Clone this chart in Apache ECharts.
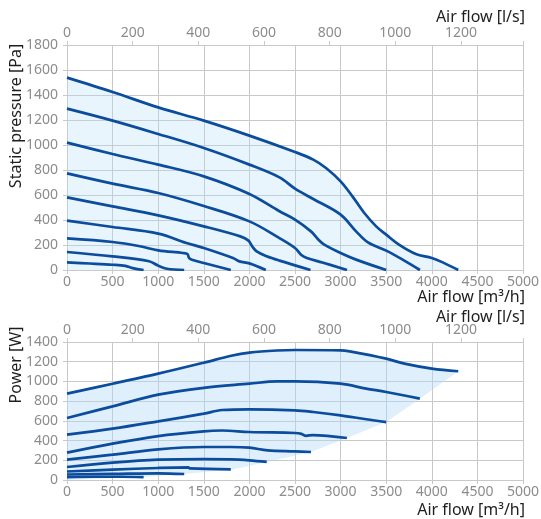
<!DOCTYPE html>
<html>
<head>
<meta charset="utf-8">
<script src="https://cdn.jsdelivr.net/npm/echarts@6.0.0/dist/echarts.min.js"></script>
<style>
html,body{margin:0;padding:0;background:#fff;}
#chart{width:541px;height:519px;}
</style>
</head>
<body>
<div id="chart"></div>
<script>
// ---- Static pressure curves [m3/h, Pa] (lowest speed first)
const pressure1 = [[0,61],[250,52],[500,42],[640,33],[720,15],[840,0]];
const pressure2 = [[0,144],[500,109],[900,70],[1000,35],[1095,10],[1285,0]];
const pressure3 = [[0,253],[500,224],[800,190],[1000,157],[1270,136],[1320,128],[1340,95],[1380,80],[1500,56],[1796,0]];
const pressure4 = [[0,395],[500,344],[1000,291],[1310,216],[1500,176],[1820,96],[1890,69],[2000,53],[2180,0]];
const pressure5 = [[0,581],[500,509],[1000,437],[1500,349],[1900,269],[1990,235],[2030,190],[2080,149],[2190,110],[2330,75],[2670,0]];
const pressure6 = [[0,773],[500,691],[1000,616],[1500,512],[2000,389],[2330,255],[2500,176],[2570,120],[2630,96],[2800,60],[3070,0]];
const pressure7 = [[0,1019],[500,928],[1000,843],[1500,749],[2000,608],[2330,470],[2500,403],[2675,309],[2760,240],[2821,203],[3000,136],[3170,83],[3500,0]];
const pressure8 = [[0,1291],[500,1195],[1000,1088],[1500,976],[2000,843],[2330,741],[2500,651],[2700,568],[3000,443],[3170,309],[3300,221],[3500,155],[3680,83],[3870,0]];
const pressure9 = [[0,1539],[500,1424],[1000,1301],[1500,1195],[2000,1075],[2500,944],[2700,883],[2840,816],[3000,709],[3130,589],[3260,456],[3390,349],[3500,283],[3640,203],[3825,128],[4000,96],[4120,61],[4290,0]];

// ---- Power curves [m3/h, W]
const power1 = [[0,30],[300,33],[600,33],[840,30]];
const power2 = [[0,56],[500,62],[1000,68],[1285,61]];
const power3 = [[0,86],[500,105],[1000,122],[1330,128],[1350,117],[1796,107]];
const power4 = [[0,132],[500,176],[1000,206],[1500,212],[1800,210],[2000,200],[2190,183]];
const power5 = [[0,206],[500,257],[1000,311],[1500,335],[1800,335],[2000,328],[2200,301],[2500,291],[2675,284]];
const power6 = [[0,277],[500,369],[1000,446],[1500,494],[1700,502],[2000,487],[2500,477],[2570,468],[2620,448],[2693,456],[3069,426]];
const power7 = [[0,460],[500,521],[1000,595],[1500,673],[1700,710],[2000,717],[2500,707],[2700,690],[3000,656],[3280,616],[3500,588]];
const power8 = [[0,629],[500,747],[1000,866],[1500,935],[2000,977],[2300,1001],[2500,1001],[3000,977],[3280,927],[3500,893],[3869,825]];
const power9 = [[0,876],[500,977],[1000,1079],[1500,1190],[1800,1260],[2000,1292],[2300,1314],[2500,1319],[3000,1316],[3100,1305],[3500,1231],[3700,1180],[4000,1130],[4290,1103]];
// lower edge of the shaded power region (through curve end points)
const powerFillLower = [[0,0],[840,30],[1285,60],[1800,105],[2190,183],[2675,284],[3070,426],[3500,588],[3870,825],[4290,1103]];

const pressureCurves = [pressure1,pressure2,pressure3,pressure4,pressure5,pressure6,pressure7,pressure8,pressure9];
const powerCurves = [power1,power2,power3,power4,power5,power6,power7,power8,power9];

// ---- Axis ranges / titles
const flowMax = 5000, flowStep = 500;
const lsFactor = 3.6, lsStep = 200, lsLastLabel = 1200;
const pressureMax = 1800, pressureStep = 200;
const powerMax = 1400, powerStep = 200;
const titles = {
  pressure: 'Static pressure [Pa]',
  power: 'Power [W]',
  flowM3h: 'Air flow [m³/h]',
  flowLs: 'Air flow [l/s]'
};

const FONT = '"Noto Sans", "Open Sans", sans-serif';
const GRID_COLOR = '#c9c9c9';
const LABEL_COLOR = '#8c8c8c';
const TITLE_COLOR = '#1e1e1e';
const LINE_COLOR = '#0b4c9c';
const FILL_COLOR = 'rgba(178,220,248,0.42)';

const chart = echarts.init(document.getElementById('chart'), null, {renderer: 'canvas'});

const plain = v => String(Math.round(v));

function flowAxis(gridIndex) {
  return {
    type: 'value', gridIndex, position: 'bottom', min: 0, max: flowMax, interval: flowStep,
    axisLine: {show: true, lineStyle: {color: GRID_COLOR, width: 1}},
    axisTick: {show: true, length: 4, lineStyle: {color: GRID_COLOR}},
    axisLabel: {color: LABEL_COLOR, fontSize: 14, fontFamily: FONT, margin: 5, formatter: plain},
    splitLine: {show: true, lineStyle: {color: GRID_COLOR, width: 1}}
  };
}
function lsAxis(gridIndex) {
  return {
    type: 'value', gridIndex, position: 'top', min: 0, max: flowMax / lsFactor, interval: lsStep,
    axisLine: {show: false},
    axisTick: {show: true, length: 4, lineStyle: {color: GRID_COLOR}},
    axisLabel: {color: LABEL_COLOR, fontSize: 14, fontFamily: FONT, margin: 5,
      formatter: v => (Math.abs(v % lsStep) < 1e-6 && v <= lsLastLabel) ? plain(v) : ''},
    splitLine: {show: false}
  };
}
function valAxis(gridIndex, max, step) {
  return {
    type: 'value', gridIndex, min: 0, max, interval: step,
    axisLine: {show: true, lineStyle: {color: GRID_COLOR, width: 1}},
    axisTick: {show: true, length: 4, lineStyle: {color: GRID_COLOR}},
    axisLabel: {color: LABEL_COLOR, fontSize: 14, fontFamily: FONT, margin: 9, formatter: plain},
    splitLine: {show: true, lineStyle: {color: GRID_COLOR, width: 1}}
  };
}

const series = [];
pressureCurves.forEach((c, i) => {
  series.push({
    type: 'line', xAxisIndex: 0, yAxisIndex: 0, data: c, smooth: 0.35,
    showSymbol: false, silent: true, z: 3,
    lineStyle: {color: LINE_COLOR, width: 2.7},
    areaStyle: i === pressureCurves.length - 1 ? {color: FILL_COLOR, origin: 'start'} : undefined
  });
});
const powerPolygon = power9.concat(powerFillLower.slice().reverse());
series.push({
  type: 'custom', xAxisIndex: 2, yAxisIndex: 1, data: powerPolygon, silent: true, z: 1,
  renderItem: function (params, api) {
    if (params.dataIndex !== 0) return null;
    const pts = powerPolygon.map(p => api.coord(p));
    return {type: 'polygon', shape: {points: pts}, style: {fill: FILL_COLOR, stroke: null}};
  }
});
powerCurves.forEach((c) => {
  series.push({
    type: 'line', xAxisIndex: 2, yAxisIndex: 1, data: c, smooth: 0.35,
    showSymbol: false, silent: true, z: 3,
    lineStyle: {color: LINE_COLOR, width: 2.7}
  });
});

function titleText(text, x, y, rotate, align) {
  return {
    type: 'text', x, y, rotation: rotate ? Math.PI / 2 : 0, silent: true,
    style: {text, fill: TITLE_COLOR, fontSize: 16, fontFamily: FONT,
      align: align || 'center', verticalAlign: 'middle'}
  };
}

chart.setOption({
  animation: false,
  backgroundColor: '#ffffff',
  grid: [
    {left: 67, right: 18, top: 45, height: 225, outerBoundsMode: 'none', containLabel: false},
    {left: 67, right: 18, top: 342, height: 138, outerBoundsMode: 'none', containLabel: false}
  ],
  xAxis: [flowAxis(0), lsAxis(0), flowAxis(1), lsAxis(1)],
  yAxis: [valAxis(0, pressureMax, pressureStep), valAxis(1, powerMax, powerStep)],
  series,
  graphic: [
    titleText(titles.flowLs, 525, 17, false, 'right'),
    titleText(titles.flowM3h, 525, 297, false, 'right'),
    titleText(titles.flowLs, 525, 317, false, 'right'),
    titleText(titles.flowM3h, 525, 510, false, 'right'),
    titleText(titles.pressure, 16, 116, true),
    titleText(titles.power, 16, 365, true)
  ]
});
</script>
</body>
</html>
